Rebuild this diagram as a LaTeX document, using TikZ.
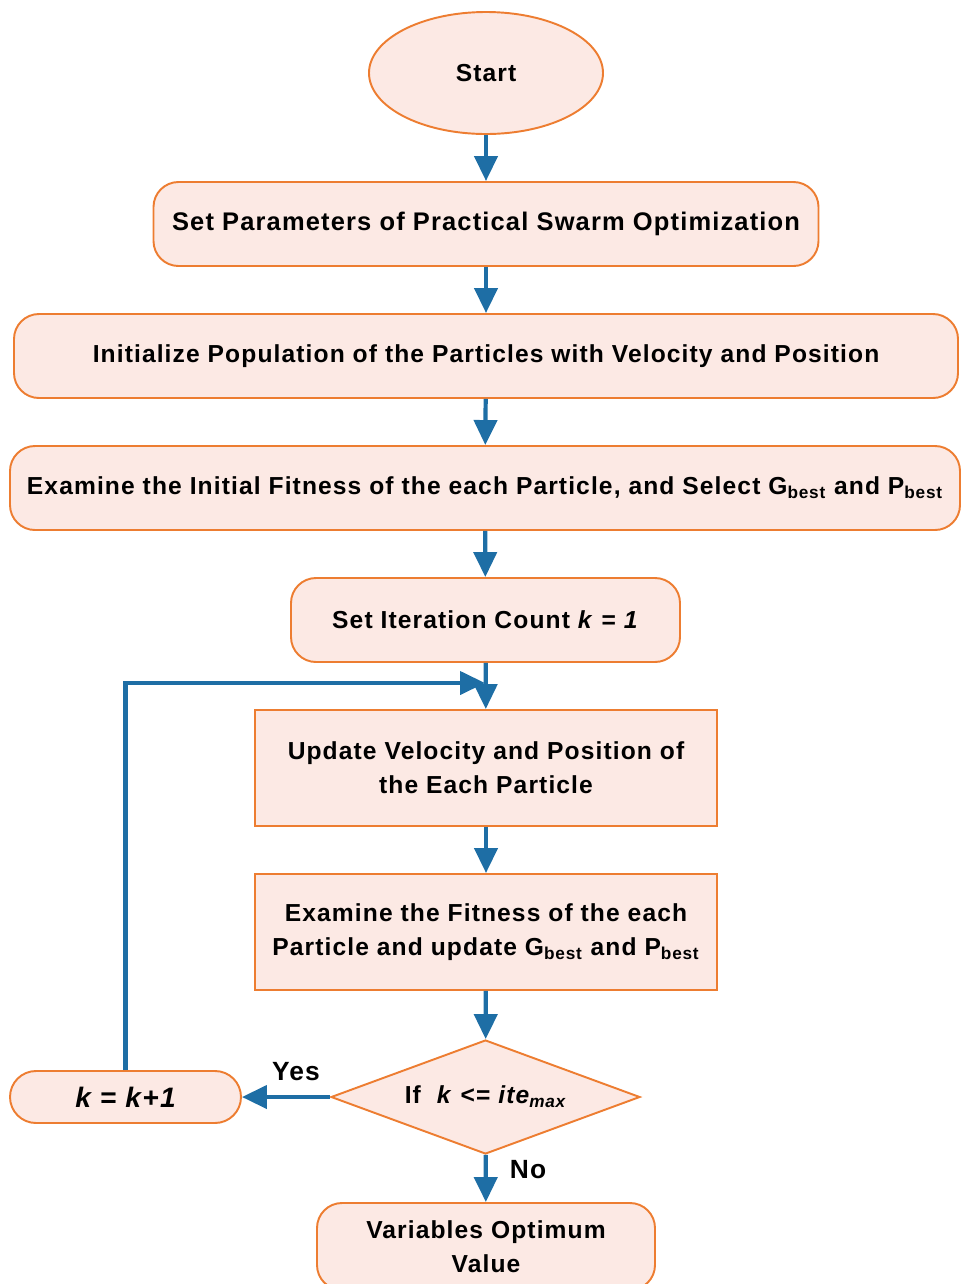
\documentclass[tikz,border=0pt]{standalone}
\usepackage{fontspec}
\setmainfont{Liberation Sans}[LetterSpace=4.5]
\usetikzlibrary{shapes.geometric, arrows.meta}
\definecolor{psoorange}{RGB}{237,125,49}
\definecolor{psofill}{RGB}{252,233,228}
\definecolor{psoblue}{RGB}{30,110,165}
\tikzset{
    every node/.style={draw=psoorange, fill=psofill, line width=1.1pt,
        font=\fontsize{14}{19.5}\selectfont\bfseries, align=center, inner sep=0pt},
    rbox/.style={rounded corners=0.5cm},
    sbox/.style={rectangle},
    flow/.style={color=psoblue, line width=2.4pt,
        -{Triangle[length=0.5cm, width=0.46cm]}},
    tag/.style={draw=none, fill=none, font=\fontsize{15}{18}\selectfont\bfseries}
}
\newcommand{\best}{\textsubscript{best}}

\begin{document}
\begin{tikzpicture}
	\useasboundingbox (0cm, 0cm) rectangle (19.24cm, -25.68cm);
	\node (1) [ellipse, minimum width=4.68cm, minimum height=2.44cm] at (9.72cm, -1.46cm) {Start};
	\node (2) [rbox, minimum width=13.3cm, minimum height=1.68cm, font=\fontsize{14.5}{19.5}\selectfont\bfseries] at (9.72cm, -4.48cm) {Set Parameters of Practical Swarm Optimization};
	\node (3) [rbox, minimum width=18.88cm, minimum height=1.68cm] at (9.72cm, -7.12cm) {Initialize Population of the Particles with Velocity and Position};
	\node (4) [rbox, minimum width=19.0cm, minimum height=1.68cm] at (9.70cm, -9.76cm) {Examine the Initial Fitness of the each Particle, and Select G\best{} and P\best};
	\node (5) [rbox, minimum width=7.78cm, minimum height=1.68cm] at (9.71cm, -12.40cm) {Set Iteration Count \textit{k} = \textit{1}};
	\node (6) [sbox, minimum width=9.24cm, minimum height=2.32cm] at (9.72cm, -15.36cm) {Update Velocity and Position of\\the Each Particle};
	\node (7) [sbox, minimum width=9.24cm, minimum height=2.32cm] at (9.72cm, -18.64cm) {Examine the Fitness of the each\\Particle and update G\best{} and P\best};
	\node (8) [diamond, shape aspect=2.7, minimum width=6.18cm, minimum height=2.28cm] at (9.71cm, -21.94cm) {If\ \ \textit{k} <= \textit{ite\textsubscript{max}}};
	\node (9) [rbox, rounded corners=0.52cm, minimum width=4.62cm, minimum height=1.04cm,
		font=\fontsize{16}{19}\selectfont\bfseries\itshape] at (2.51cm, -21.94cm) {k = k+1};
	\node (10) [rbox, minimum width=6.76cm, minimum height=1.74cm] at (9.72cm, -24.93cm) {Variables Optimum\\Value};
	\coordinate (m) at (9.70cm, -13.66cm);

	\node (yes) [tag] at (5.92cm, -21.44cm) {Yes};
	\node (no) [tag] at (10.56cm, -23.40cm) {No};

	\draw[flow] (1) edge (2); \draw[flow] (2) edge (3); \draw[flow] (3) edge (4);
	\draw[flow] (4) edge (5); \draw[flow] (5) edge (6); \draw[flow] (6) edge (7);
	\draw[flow] (7) edge (8); \draw[flow] (8) edge (10); \draw[flow] (8) edge (9);
	\draw[flow] (9) |- (m);
\end{tikzpicture}
\end{document}
